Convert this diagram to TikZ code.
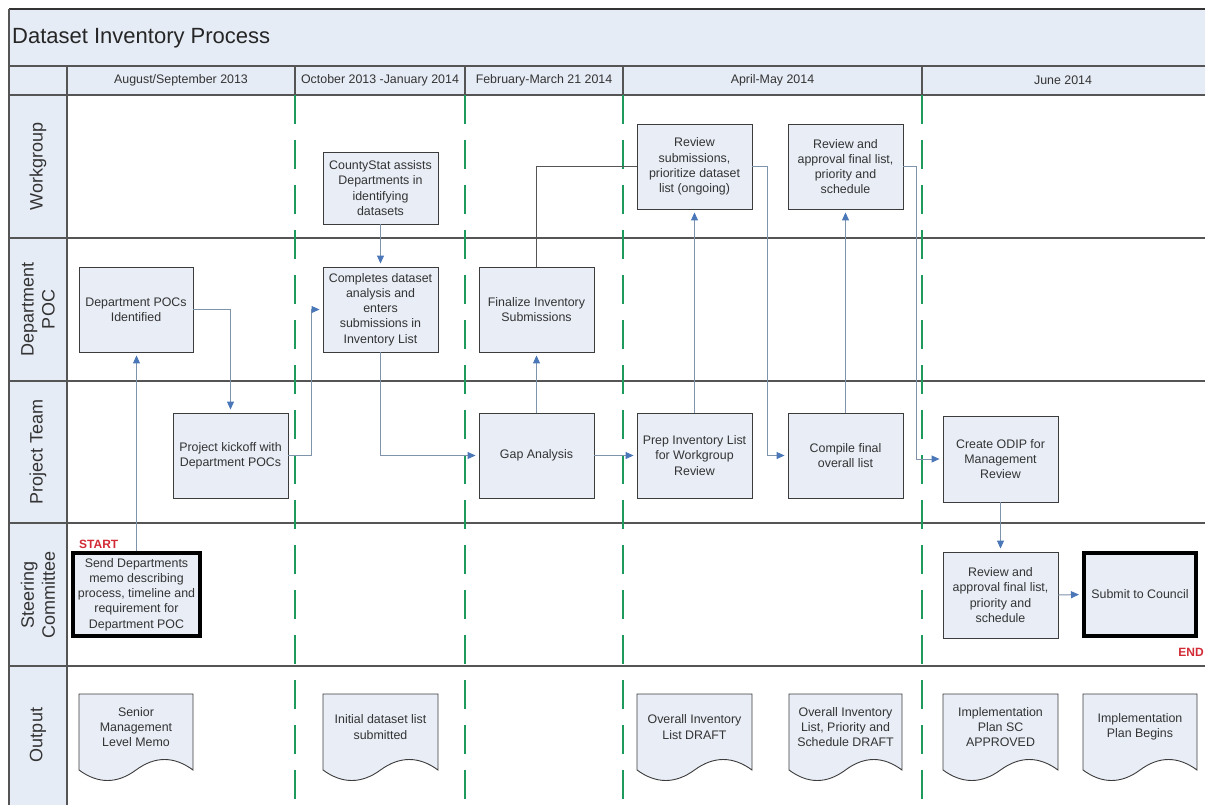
\documentclass[tikz,border=0pt]{standalone}
\usepackage{fontspec}
\setmainfont{Liberation Sans}
\usetikzlibrary{arrows.meta}
\definecolor{boxfill}{HTML}{E8EDF6}
\definecolor{bandfill}{HTML}{E6ECF6}
\definecolor{boxline}{HTML}{3C3C3C}
\definecolor{txt}{HTML}{333333}
\definecolor{conn}{HTML}{7F93AA}
\definecolor{tipblue}{HTML}{4A77B8}
\definecolor{guide}{HTML}{1E9A5C}
\definecolor{lanegray}{HTML}{555555}
\definecolor{markred}{HTML}{D22B36}
\newcommand\outdoc[4]{%
  \draw[docline] (#2,694) -- (#3,694) -- (#3,770)
    .. controls ({#3-(#3-#2)/6},756) and ({#3-(#3-#2)/3},756) .. ({(#2+#3)/2},770)
    .. controls ({#2+(#3-#2)/3},784) and ({#2+(#3-#2)/6},784) .. (#2,770) -- cycle;
  \node[doctext] (#1) at ({(#2+#3)/2},727) {#4};}
\begin{document}
\begin{tikzpicture}[x=1pt,y=-1pt,
  boxfont/.style={font=\fontsize{12.4}{15.2}\selectfont},
  procbox/.style={draw=boxline, fill=boxfill, line width=0.9pt, text=txt, align=center,
    minimum width=115pt, minimum height=85pt, inner sep=1pt, boxfont},
  termbox/.style={procbox, draw=black, line width=4pt},
  docline/.style={draw=boxline, fill=boxfill, line width=0.9pt},
  doctext/.style={text=txt, align=center, boxfont, inner sep=1pt},
  flow/.style={draw=conn, line width=1pt, -{Triangle[length=8pt,width=7pt,color=tipblue]}, shorten >=3pt},
  plainlink/.style={draw=lanegray, line width=1pt},
  frameline/.style={draw=lanegray, line width=1.4pt},
  guideline/.style={draw=guide, line width=2.6pt, dash pattern=on 29pt off 16pt},
  lanelabel/.style={text=txt, align=center, font=\fontsize{18}{21}\selectfont},
  headtext/.style={text=txt, font=\fontsize{12.4}{15}\selectfont},
  marklabel/.style={text=markred, font=\bfseries\fontsize{12}{14}\selectfont, inner sep=0pt}
]
\useasboundingbox (0,0) rectangle (1205,805);
\clip (0,0) rectangle (1205,805);
\fill[white] (0,0) rectangle (1205,805);

% frame and bands
\fill[bandfill] (9,9) rectangle (1215,95);
\fill[bandfill] (9,95) rectangle (67,815);
\draw[frameline, draw=black!80] (9,9) -- (1215,9);
\draw[frameline] (9,9) -- (9,815);
\draw[frameline] (67,66) -- (67,815);
\foreach \yy in {66,95,238,381,523,666} \draw[frameline] (9,\yy) -- (1215,\yy);
\foreach \xx in {295,465,623,922} \draw[frameline] (\xx,66) -- (\xx,95);

% title and headers
\node[anchor=west, text=black!85, font=\fontsize{22}{26}\selectfont, inner sep=0pt] (title) at (12,38) {Dataset Inventory Process};
\node[headtext] (h1) at (181,80.5) {August/September 2013};
\node[headtext] (h2) at (380,80.5) {October 2013 -January 2014};
\node[headtext] (h3) at (544,80.5) {February-March 21 2014};
\node[headtext] (h4) at (772.5,80.5) {April-May 2014};
\node[headtext] (h5) at (1063,80.5) {June 2014};

% lane labels
\node[lanelabel, rotate=90] (l1) at (38,166.5) {Workgroup};
\node[lanelabel, rotate=90] (l2) at (38,309.5) {Department\\POC};
\node[lanelabel, rotate=90] (l3) at (38,452) {Project Team};
\node[lanelabel, rotate=90] (l4) at (38,594.5) {Steering\\Committee};
\node[lanelabel, rotate=90] (l5) at (38,735) {Output};

% period guides
\foreach \xx in {295,465,623,922} \draw[guideline] (\xx,95) -- (\xx,815);

% process boxes
\node[procbox, minimum height=72pt] (county) at (380.5,188) {CountyStat assists\\Departments in\\identifying\\datasets};
\node[procbox] (revsub) at (694.5,166.5) {Review\\submissions,\\prioritize dataset\\list (ongoing)};
\node[procbox] (revwg) at (845.5,166.5) {Review and\\approval final list,\\priority and\\schedule};

\node[procbox, minimum width=114pt] (deppoc) at (136,309.5) {Department POCs\\Identified};
\node[procbox] (completes) at (380.5,309.5) {Completes dataset\\analysis and\\enters\\submissions in\\Inventory List};
\node[procbox] (finalize) at (536.5,309.5) {Finalize Inventory\\Submissions};

\node[procbox] (kickoff) at (230.5,455.5) {Project kickoff with\\Department POCs};
\node[procbox] (gap) at (536.5,455.5) {Gap Analysis};
\node[procbox] (prep) at (694.5,455.5) {Prep Inventory List\\for Workgroup\\Review};
\node[procbox] (compile) at (845.5,455.5) {Compile final\\overall list};
\node[procbox, minimum height=86pt] (odip) at (1000.5,459) {Create ODIP for\\Management\\Review};

\node[termbox, minimum width=127pt, minimum height=83pt] (memo) at (136.5,594.5) {Send Departments\\memo describing\\process, timeline and\\requirement for\\Department POC};
\node[procbox, minimum height=86pt] (revsc) at (1000.5,595) {Review and\\approval final list,\\priority and\\schedule};
\node[termbox, minimum width=112pt, minimum height=83pt] (submit) at (1140,594.5) {Submit to Council};

\node[marklabel, anchor=west] (start) at (79,544) {START};
\node[marklabel, anchor=east] (endlabel) at (1204,652) {END};

% outputs
\outdoc{o1}{79}{193}{Senior\\Management\\Level Memo}
\outdoc{o2}{323}{438}{Initial dataset list\\submitted}
\outdoc{o3}{637}{752}{Overall Inventory\\List DRAFT}
\outdoc{o4}{789}{902}{Overall Inventory\\List, Priority and\\Schedule DRAFT}
\outdoc{o5}{943}{1058}{Implementation\\Plan SC\\APPROVED}
\outdoc{o6}{1083}{1197}{Implementation\\Plan Begins}

% connectors
\draw[flow] (memo.north) -- (memo.north |- deppoc.south);
\draw[flow] (deppoc.east) -| (kickoff.north);
\draw[flow] (kickoff.east) -- ([xshift=23pt]kickoff.east) |- (completes.west);
\draw[flow] (county.south) -- (completes.north);
\draw[flow] (completes.south) |- (gap.west);
\draw[flow] (gap.north) -- (finalize.south);
\draw[plainlink] (finalize.north) |- (revsub.west);
\draw[flow] (gap.east) -- (prep.west);
\draw[flow] (prep.north) -- (revsub.south);
\draw[flow] (revsub.east) -- ([xshift=15pt]revsub.east) |- (compile.west);
\draw[flow] (compile.north) -- (revwg.south);
\draw[flow] (revwg.east) -- ([xshift=13pt]revwg.east) |- (odip.west);
\draw[flow] (odip.south) -- (revsc.north);
\draw[flow] (revsc.east) -- (submit.west);
\end{tikzpicture}
\end{document}
